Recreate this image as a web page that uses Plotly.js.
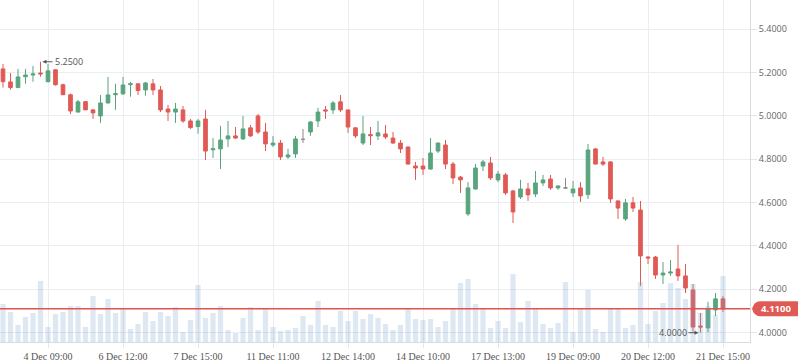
<!DOCTYPE html>
<html>
<head>
<meta charset="utf-8">
<script src="https://cdn.plot.ly/plotly-3.0.1.min.js"></script>
<style>html,body{margin:0;padding:0;background:#fff;}#chart{width:798px;height:363px;}</style>
</head>
<body>
<div id="chart"></div>
<script>
var openP = [5.217,5.157,5.131,5.181,5.189,5.198,5.158,5.213,5.144,5.098,5.018,5.066,5.028,5.000,5.060,5.098,5.102,5.144,5.148,5.120,5.148,5.120,5.032,5.018,5.028,4.977,4.951,4.986,4.844,4.848,4.894,4.908,4.894,4.945,5.000,4.926,4.866,4.875,4.811,4.825,4.892,4.926,4.977,5.028,5.028,5.065,5.028,4.945,4.875,4.914,4.908,4.917,4.898,4.875,4.857,4.769,4.769,4.755,4.838,4.866,4.778,4.718,4.548,4.663,4.769,4.783,4.705,4.728,4.654,4.626,4.663,4.640,4.691,4.709,4.668,4.668,4.645,4.668,4.637,4.848,4.788,4.788,4.608,4.525,4.599,4.566,4.349,4.349,4.266,4.275,4.294,4.262,4.197,4.031,4.022,4.105,4.156];
var highP = [5.240,5.198,5.217,5.217,5.231,5.250,5.240,5.214,5.149,5.103,5.074,5.069,5.032,5.097,5.180,5.149,5.180,5.157,5.152,5.157,5.171,5.138,5.051,5.060,5.046,4.986,4.986,5.028,4.898,4.954,4.977,4.949,5.000,4.958,5.009,4.968,4.908,4.889,4.848,4.908,4.940,4.977,5.037,5.046,5.069,5.097,5.028,4.949,5.000,4.949,4.977,4.958,4.926,4.889,4.857,4.788,4.806,4.898,4.877,4.889,4.788,4.723,4.695,4.778,4.797,4.811,4.746,4.737,4.659,4.705,4.691,4.746,4.728,4.728,4.679,4.714,4.700,4.695,4.871,4.852,4.811,4.790,4.610,4.617,4.626,4.608,4.354,4.354,4.326,4.335,4.405,4.317,4.225,4.091,4.142,4.183,4.169];
var lowP = [5.131,5.121,5.128,5.149,5.158,5.181,5.155,5.140,5.097,5.009,5.016,5.027,4.986,4.968,5.058,5.028,5.097,5.089,5.097,5.094,5.097,5.018,4.977,4.968,4.968,4.940,4.918,4.797,4.806,4.755,4.857,4.894,4.889,4.903,4.917,4.838,4.857,4.797,4.802,4.806,4.875,4.908,4.949,4.986,5.009,5.018,4.922,4.898,4.866,4.866,4.889,4.894,4.871,4.829,4.776,4.705,4.728,4.752,4.829,4.755,4.686,4.645,4.539,4.660,4.746,4.705,4.695,4.636,4.506,4.617,4.608,4.626,4.677,4.659,4.659,4.663,4.626,4.603,4.617,4.776,4.769,4.599,4.525,4.516,4.557,4.216,4.317,4.248,4.225,4.262,4.239,4.183,4.005,4.000,4.002,4.077,4.096];
var closeP = [5.158,5.131,5.180,5.189,5.194,5.194,5.208,5.144,5.098,5.023,5.065,5.028,5.014,5.060,5.097,5.103,5.143,5.149,5.117,5.152,5.120,5.028,5.018,5.032,4.977,4.946,4.977,4.838,4.849,4.889,4.908,4.898,4.940,4.908,4.926,4.871,4.875,4.811,4.820,4.894,4.892,4.972,5.018,5.023,5.060,5.028,4.949,4.908,4.917,4.909,4.922,4.903,4.875,4.848,4.778,4.760,4.755,4.829,4.875,4.778,4.714,4.705,4.668,4.760,4.788,4.714,4.732,4.645,4.557,4.663,4.636,4.691,4.705,4.668,4.677,4.668,4.663,4.631,4.843,4.778,4.778,4.617,4.575,4.599,4.575,4.354,4.345,4.266,4.275,4.280,4.262,4.206,4.026,4.026,4.109,4.156,4.110];
var volume = [38,30,17,25,29,61,15,28,30,36,36,15,46,28,43,29,33,13,18,30,21,30,26,35,10,22,57,24,29,36,12,9,24,35,12,33,15,11,12,14,26,17,41,17,15,31,21,31,23,28,24,18,12,17,33,23,22,23,15,21,33,59,63,38,34,14,21,14,68,20,41,34,18,14,19,60,10,34,52,13,10,34,33,14,17,60,18,31,39,59,54,43,58,29,36,27,66];
var tickIdx = [6,16,26,36,46,56,66,76,86,96];
var tickLabels = ['4 Dec 09:00','6 Dec 12:00','7 Dec 15:00','11 Dec 11:00','12 Dec 14:00','14 Dec 10:00','17 Dec 13:00','19 Dec 09:00','20 Dec 12:00','21 Dec 15:00'];
var lastPrice = 4.11;
var highMark = {i: 5, v: 5.25, label: '5.2500'};
var lowMark = {i: 93, v: 4.00, label: '4.0000'};

var idx = openP.map(function(_, i){ return i; });
function pick(arr, keep){ return idx.filter(keep).map(function(i){ return arr[i]; }); }
var isDoji = function(i){ return openP[i] === closeP[i]; };
var notDoji = function(i){ return openP[i] !== closeP[i]; };

var RED = '#e05a55', GREEN = '#58a47e', GRAY = '#8a8a8a';

var candles = {
  type: 'candlestick',
  x: pick(idx, notDoji), open: pick(openP, notDoji), high: pick(highP, notDoji),
  low: pick(lowP, notDoji), close: pick(closeP, notDoji),
  increasing: {line: {color: GREEN, width: 1}, fillcolor: GREEN},
  decreasing: {line: {color: RED, width: 1}, fillcolor: RED},
  whiskerwidth: 0, hoverinfo: 'skip', showlegend: false
};
var dojis = {
  type: 'candlestick',
  x: pick(idx, isDoji), open: pick(openP, isDoji), high: pick(highP, isDoji),
  low: pick(lowP, isDoji), close: pick(closeP, isDoji),
  increasing: {line: {color: GRAY, width: 1}, fillcolor: GRAY},
  decreasing: {line: {color: GRAY, width: 1}, fillcolor: GRAY},
  whiskerwidth: 0, hoverinfo: 'skip', showlegend: false
};
var vol = {
  type: 'bar', x: idx, y: volume, yaxis: 'y2',
  marker: {color: 'rgba(122,163,205,0.25)', line: {width: 0}},
  hoverinfo: 'skip', showlegend: false
};

var layout = {
  width: 798, height: 363,
  margin: {l: 0, r: 48, t: 0, b: 21},
  paper_bgcolor: '#fff', plot_bgcolor: '#fff',
  showlegend: false, bargap: 0.3,
  xaxis: {
    range: [-0.4, 99.6], rangeslider: {visible: false},
    tickmode: 'array', tickvals: tickIdx, ticktext: tickLabels,
    showgrid: true, gridcolor: '#eaedf1', gridwidth: 1,
    showline: true, linecolor: '#d8dce2', linewidth: 1,
    ticks: 'outside', ticklen: 5, tickcolor: '#e3e6ea',
    tickfont: {family: 'Liberation Serif, Times New Roman, serif', size: 10, color: '#555'},
    zeroline: false, fixedrange: true
  },
  yaxis: {
    side: 'right', range: [3.957, 5.535], dtick: 0.2, tick0: 4.0, tickformat: '.4f',
    showgrid: true, gridcolor: '#eaedf1', gridwidth: 1,
    showline: true, linecolor: '#d8dce2', linewidth: 1,
    ticks: 'outside', ticklen: 6, tickcolor: '#e3e6ea',
    tickfont: {family: 'Open Sans, sans-serif', size: 9, color: '#666'},
    zeroline: false, fixedrange: true
  },
  yaxis2: {overlaying: 'y', range: [0, 342], visible: false, fixedrange: true},
  shapes: [
    {type: 'line', xref: 'paper', x0: 0, x1: 1, yref: 'y', y0: lastPrice, y1: lastPrice,
     line: {color: '#e3524d', width: 1.5}, layer: 'above'},
    {type: 'path', xref: 'paper', yref: 'y', xsizemode: 'pixel', ysizemode: 'pixel',
     xanchor: 1, yanchor: lastPrice,
     path: 'M 2,0 Q 4,-7.5 10,-7.5 L 50,-7.5 L 50,7.5 L 10,7.5 Q 4,7.5 2,0 Z',
     fillcolor: '#e05a55', line: {width: 0}, layer: 'above'}
  ],
  annotations: [
    {x: 1, xref: 'paper', y: lastPrice, yref: 'y', xanchor: 'left', xshift: 9,
     text: '<b>' + lastPrice.toFixed(4) + '</b>', showarrow: false,
     font: {family: 'Open Sans, sans-serif', size: 9.5, color: '#fff'}},
    {x: highMark.i, y: highMark.v, xref: 'x', yref: 'y', text: highMark.label,
     showarrow: true, ax: 12, ay: 0, xanchor: 'left', arrowhead: 2, arrowsize: 0.8,
     arrowwidth: 1, arrowcolor: '#555', standoff: 2,
     font: {family: 'Open Sans, sans-serif', size: 9, color: '#555'}},
    {x: lowMark.i, y: lowMark.v, xref: 'x', yref: 'y', text: lowMark.label,
     showarrow: true, ax: -12, ay: 0, xanchor: 'right', arrowhead: 2, arrowsize: 0.8,
     arrowwidth: 1, arrowcolor: '#555', standoff: 2,
     font: {family: 'Open Sans, sans-serif', size: 9, color: '#555'}}
  ]
};

Plotly.newPlot('chart', [candles, dojis, vol], layout, {displayModeBar: false, staticPlot: true});
</script>
</body>
</html>
